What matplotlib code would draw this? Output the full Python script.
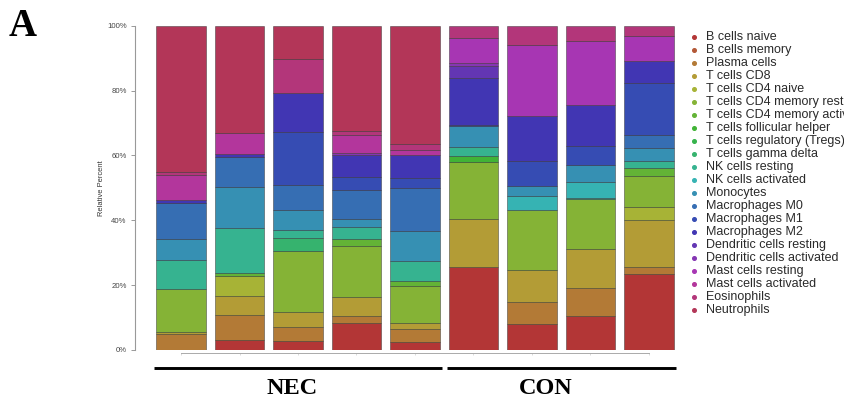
import numpy as np
import matplotlib
matplotlib.use('Agg')
import matplotlib.pyplot as plt
from matplotlib.colors import hsv_to_rgb
from matplotlib.lines import Line2D

# CIBERSORT-style immune cell fractions (%)
cell_types = [
    'B cells naive', 'B cells memory', 'Plasma cells', 'T cells CD8',
    'T cells CD4 naive', 'T cells CD4 memory resting', 'T cells CD4 memory activated',
    'T cells follicular helper', 'T cells regulatory (Tregs)', 'T cells gamma delta',
    'NK cells resting', 'NK cells activated', 'Monocytes', 'Macrophages M0',
    'Macrophages M1', 'Macrophages M2', 'Dendritic cells resting',
    'Dendritic cells activated', 'Mast cells resting', 'Mast cells activated',
    'Eosinophils', 'Neutrophils',
]

#        0    1    2     3     4     5     6    7    8    9    10    11   12    13    14    15    16   17   18    19   20    21
nec1 = [0.0, 0, 4.8,  0.8,  0.0, 13.3, 0.0, 0.0, 0, 0.0, 8.7,  0.0, 6.7, 11.0, 0.0,  1.0,  0.0, 0.0, 0.0,  7.5, 1.0, 45.1]
nec2 = [3.1, 0, 7.7,  5.8,  6.2,  0.0, 0.8, 0.0, 0, 0.0, 14.1, 0.0, 12.5, 9.2, 0.0,  1.0,  0.0, 0.0, 0.0,  6.4, 0.0, 33.1]
nec3 = [2.8, 0, 4.4,  4.4,  0.0, 18.9, 0.0, 0.0, 0, 4.2, 2.3,  0.0, 6.4,  7.7, 16.2, 12.0, 0.0, 0.0, 0.0,  0.0, 10.6, 10.3]
nec4 = [8.4, 0, 2.2,  5.8,  0.0, 15.7, 2.2, 0.0, 0, 0.0, 3.7,  0.0, 2.3,  9.0, 4.1,  6.7,  0.0, 0.8, 0.0,  5.3, 1.2, 32.6]
nec5 = [2.6, 0, 3.8,  1.8,  0.0, 11.6, 1.5, 0.0, 0, 0.0, 6.1,  0.0, 9.2, 13.3, 3.2,  7.1,  0.0, 0.0, 0.0,  1.5, 1.8, 36.4]
con1 = [25.6, 0, 0.0, 14.7, 0.0, 17.8, 0.0, 1.6, 0, 0.0, 3.0,  0.0, 6.3,  0.0, 0.5, 14.4,  3.8, 0.7, 7.8,  0.0, 3.8, 0.0]
con2 = [8.0, 0, 6.9,  9.9,  0.0, 18.3, 0.0, 0.0, 0, 0.0, 0.0,  4.3, 3.2,  0.0, 7.7, 14.0,  0.0, 0.0, 21.8, 0.0, 5.9, 0.0]
con3 = [10.5, 0, 8.7, 11.8, 0.0, 15.5, 0.0, 0.0, 0, 0.0, 0.4,  5.0, 5.0,  0.0, 6.1, 12.7,  0.0, 0.0, 19.7, 0.0, 4.6, 0.0]
con4 = [23.6, 0, 2.0, 14.4, 4.1,  9.7, 2.4, 0.0, 0, 0.0, 2.1,  0.0, 4.1,  4.1, 15.9, 6.9,  0.0, 0.0, 7.7,  0.0, 3.1, 0.0]

samples = [nec1, nec2, nec3, nec4, nec5, con1, con2, con3, con4]
groups = ['NEC', 'CON']
group_sizes = [5, 4]

W, H = 845, 403

def fx(px):
    return px / W

def fy(py):
    return 1 - py / H

n_types = len(cell_types)
hues = np.arange(n_types) / n_types
palette = hsv_to_rgb(np.column_stack([hues, np.full(n_types, 0.7), np.full(n_types, 0.7)]))

fig = plt.figure(figsize=(W / 100, H / 100), dpi=100)
ax = fig.add_axes([fx(135), fy(350), fx(680) - fx(135), fy(25.7) - fy(350)])

data = np.array(samples, dtype=float)
data = data / data.sum(axis=1, keepdims=True) * 100
x = np.arange(len(samples))
bottoms = np.zeros(len(samples))
for i in range(n_types):
    vals = data[:, i]
    keep = vals > 0
    ax.bar(x[keep], vals[keep], bottom=bottoms[keep], width=0.838,
           color=palette[i], edgecolor=(0.15, 0.15, 0.15, 0.6), linewidth=0.5)
    bottoms += vals

ax.set_xlim(-(181 - 135) / 58.5, (680 - 181) / 58.5)
ax.set_ylim(0, 100)

for side in ['top', 'right']:
    ax.spines[side].set_visible(False)
ax.spines['left'].set_bounds(0, 100)
ax.spines['left'].set_color('#999999')
ax.spines['left'].set_linewidth(0.8)
ax.spines['bottom'].set_bounds(0, len(samples) - 1)
ax.spines['bottom'].set_position(('data', -0.9))
ax.spines['bottom'].set_color('#aaaaaa')
ax.spines['bottom'].set_linewidth(0.7)

ax.set_yticks([0, 20, 40, 60, 80, 100])
ax.set_yticklabels(['0%', '20%', '40%', '60%', '80%', '100%'])
ax.tick_params(axis='y', length=3, width=0.7, color='#999999', labelsize=5.6,
               labelcolor='#444444', pad=3)
ax.set_xticks(x)
ax.set_xticklabels([])
ax.tick_params(axis='x', length=1.5, width=0.5, color='#cccccc')
for lab in ax.get_yticklabels():
    lab.set_family('Liberation Sans')

fig.text(fx(102), fy(188), 'Relative Percent', rotation=90, ha='center', va='center',
         fontsize=5.4, color='#333333', family='Liberation Sans')

# group bars and labels under the plot
start = 0
for g, n in zip(groups, group_sizes):
    x0 = start - 0.46
    x1 = start + n - 1 + 0.46
    ax.plot([x0, x1], [-5.46, -5.46], color='black', linewidth=2.1,
            clip_on=False, solid_capstyle='butt')
    start += n
fig.text(fx(292), fy(388), 'NEC', ha='center', va='center', fontsize=17.5,
         fontweight='bold', family='Liberation Serif')
fig.text(fx(546), fy(388), 'CON', ha='center', va='center', fontsize=17.5,
         fontweight='bold', family='Liberation Serif')

fig.text(fx(9), fy(36), 'A', ha='left', va='baseline', fontsize=28,
         fontweight='bold', family='Liberation Serif')

# legend drawn by hand, one row per cell type (long names run off the edge)
for i, name in enumerate(cell_types):
    yy = fy(36.7 + 13.0 * i)
    fig.add_artist(Line2D([fx(694)], [yy], marker='o', markersize=2.6,
                          color=palette[i], linestyle='none',
                          transform=fig.transFigure))
    fig.text(fx(706), yy, name, ha='left', va='center', fontsize=9.0,
             color='#2a2a2a', family='Liberation Sans')

fig.savefig('out.png', dpi=100)
